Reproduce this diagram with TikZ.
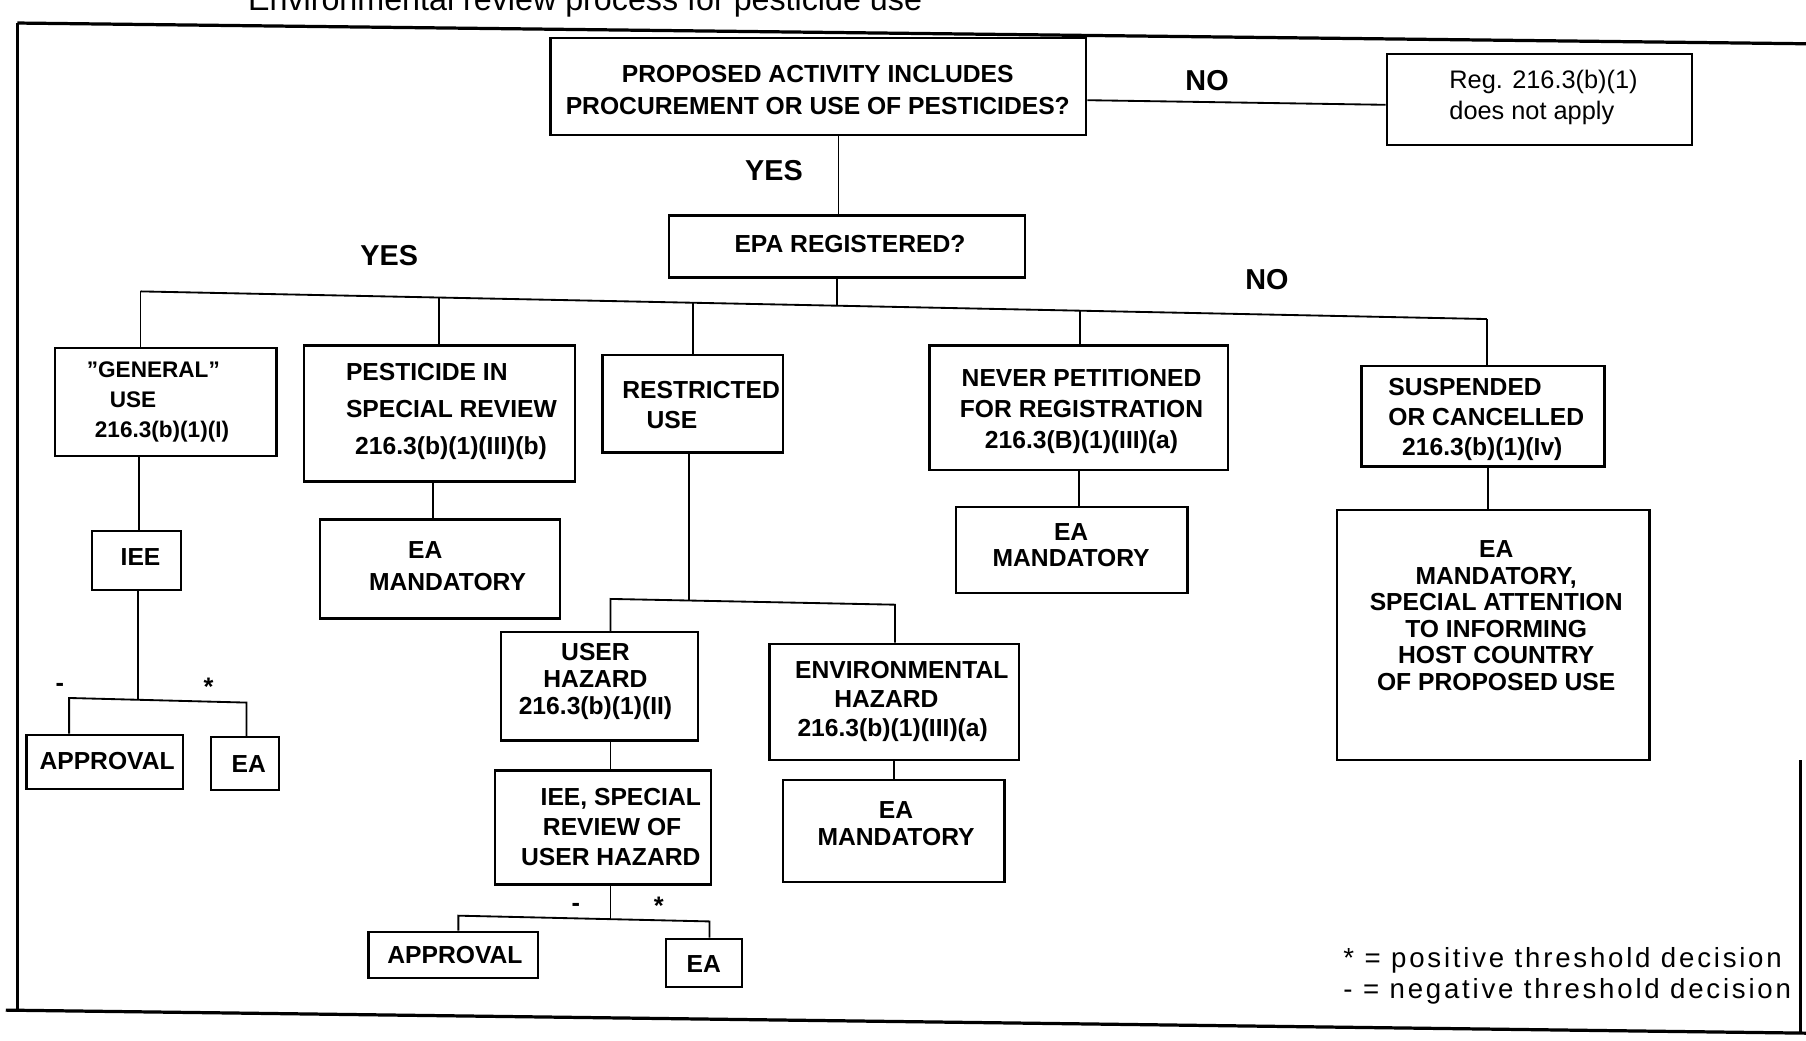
\documentclass[tikz,border=0pt]{standalone}
\usepackage{fontspec}
\setmainfont{Liberation Sans}
\newfontfamily\legendfont[LetterSpace=10]{Liberation Sans}
\newcommand\mycapf[1]{\fontsize{10.7}{#1}\selectfont\bfseries}
\newcommand\mybox[5]{\node[box,minimum width={(#4-#2)*0.5pt},minimum height={(#5-#3)*0.5pt}] (#1) at ({(#2+#4)/2},{(#3+#5)/2}) {};}
\begin{document}
\begin{tikzpicture}[x=0.5pt,y=-0.5pt,
  box/.style={draw,line width=1pt,inner sep=0pt},
  txt/.style={inner sep=0pt,font=\mycapf{#1}},
  txt/.default=13.5,
  regtxt/.style={inner sep=0pt,font=\fontsize{11}{13.5}\selectfont},
  lbl/.style={inner sep=0pt,font=\fontsize{12.5}{15}\selectfont\bfseries},
  mk/.style={inner sep=0pt,font=\fontsize{11}{13}\selectfont\bfseries},
  conn/.style={line width=0.8pt},
  frame/.style={line width=1.4pt}]
\useasboundingbox (0,0) rectangle (1568,903);
% frame and title
\node[inner sep=0pt,anchor=base west,font=\fontsize{14}{16}\selectfont] (title) at (215,9) {Environmental review process for pesticide use};
\coordinate (f1) at (15,20);
\coordinate (f2) at (1568,38);
\coordinate (f3) at (15,878);
\coordinate (f4) at (5,877);
\coordinate (f5) at (1568,897);
\coordinate (f6) at (1563,660);
\coordinate (f7) at (1563,896);
\draw[frame] (f1) -- (f2);
\draw[frame] (f1) -- (f3);
\draw[frame] (f4) -- (f5);
\draw[frame] (f6) -- (f7);
% boxes
\mybox{prop}{478}{33}{943}{117}
\mybox{reg}{1204}{47}{1469}{126}
\mybox{epa}{581}{187}{890}{241}
\mybox{gen}{48}{302}{240}{396}
\mybox{pest}{264}{300}{499}{418}
\mybox{restr}{523}{308}{680}{393}
\mybox{never}{807}{300}{1066}{408}
\mybox{susp}{1182}{318}{1393}{405}
\mybox{iee}{80}{461}{157}{512}
\mybox{appa}{23}{638}{159}{685}
\mybox{eaa}{183}{640}{242}{686}
\mybox{eama}{278}{451}{486}{537}
\mybox{user}{435}{549}{606}{643}
\mybox{env}{668}{559}{885}{660}
\mybox{ieesp}{430}{669}{617}{768}
\mybox{appb}{320}{809}{467}{849}
\mybox{eab}{578}{815}{644}{857}
\mybox{eamb}{680}{677}{872}{766}
\mybox{eamc}{830}{440}{1031}{515}
\mybox{big}{1161}{443}{1432}{660}
% texts
\node[txt=14,align=center] (propT) at (710,78) {PROPOSED ACTIVITY INCLUDES\\PROCUREMENT OR USE OF PESTICIDES?};
\node[regtxt,align=left,anchor=west] (regT) at (1258,85) {Reg. 216.3(b)(1)\\does not apply};
\node[txt] (epaT) at (738,212) {EPA REGISTERED?};
\node[inner sep=0pt,font=\fontsize{9.8}{13}\selectfont\bfseries,align=left,anchor=west] (genT) at (75,349) {"GENERAL"\\\hspace*{10pt}USE\\\hspace*{3.5pt}216.3(b)(1)(I)};
\node[txt=16,align=left,anchor=west] (pestT) at (300,357) {PESTICIDE IN\\SPECIAL REVIEW\\\hspace*{4pt}216.3(b)(1)(III)(b)};
\node[txt=13,align=left,anchor=west] (restrT) at (540,352) {RESTRICTED\\\hspace*{10.5pt}USE};
\node[txt=13.5,align=center] (neverT) at (939,357) {NEVER PETITIONED\\FOR REGISTRATION\\216.3(B)(1)(III)(a)};
\node[txt=13,align=left,anchor=west] (suspT) at (1205,364) {SUSPENDED\\OR CANCELLED\\\hspace*{6pt}216.3(b)(1)(Iv)};
\node[txt] (ieeT) at (122,484) {IEE};
\node[txt] (appaT) at (93,661) {APPROVAL};
\node[txt] (eaaT) at (216,663) {EA};
\node[txt=13.5,align=left,anchor=west] (eamaT) at (320,491.5) {\hspace*{17pt}EA\\MANDATORY};
\node[txt=11.75,align=center] (userT) at (517,592) {USER\\HAZARD\\216.3(b)(1)(II)};
\node[txt=12.5,align=left,anchor=west] (envT) at (690,609) {ENVIRONMENTAL\\\hspace*{17pt}HAZARD\\\hspace*{1pt}216.3(b)(1)(III)(a)};
\node[txt=13,align=left,anchor=west] (ieespT) at (452,718) {\hspace*{8.5pt}IEE, SPECIAL\\\hspace*{9.5pt}REVIEW OF\\USER HAZARD};
\node[txt] (appbT) at (395,829) {APPROVAL};
\node[txt] (eabT) at (611,837) {EA};
\node[txt=12,align=center] (eambT) at (778,715) {EA\\MANDATORY};
\node[txt=11.5,align=center] (eamcT) at (930,473.5) {EA\\MANDATORY};
\node[txt=11.5,align=center] (bigT) at (1299,534.5) {EA\\MANDATORY,\\SPECIAL ATTENTION\\TO INFORMING\\HOST COUNTRY\\OF PROPOSED USE};
% labels
\node[lbl] (no1) at (1048,70) {NO};
\node[lbl] (yes1) at (672,148) {YES};
\node[lbl] (yes2) at (338,222) {YES};
\node[lbl] (no2) at (1100,243) {NO};
\node[mk] (m1) at (52,597) {-};
\node[mk] (m2) at (181,596) {*};
\node[mk] (m3) at (500,788) {-};
\node[mk] (m4) at (572,786) {*};
\node[inner sep=0pt,anchor=west,align=left,font=\legendfont\fontsize{12}{13.5}\selectfont] (legend) at (1166,847) {* = positive threshold decision\\- = negative threshold decision};
% connectors
\draw[conn] ([yshift=-6pt]prop.east) -- ([yshift=-2.25pt]reg.west);
\coordinate (v1) at (728,0);
\draw[conn] (v1 |- prop.south) -- (v1 |- epa.north);
\coordinate (b0) at (727,265.4);
\draw[conn] (b0 |- epa.south) -- (b0);
\coordinate (b1) at (122,253);
\coordinate (b2) at (381,258.3);
\coordinate (b3) at (602,262.9);
\coordinate (b4) at (938,269.8);
\coordinate (b5) at (1291,277);
\draw[conn] (b1) -- (b5);
\draw[conn] (b1) -- (b1 |- gen.north);
\draw[conn] (b2) -- (b2 |- pest.north);
\draw[conn] (b3) -- (b3 |- restr.north);
\draw[conn] (b4) -- (b4 |- never.north);
\draw[conn] (b5) -- (b5 |- susp.north);
% general branch
\coordinate (g1) at (121,0);
\draw[conn] (g1 |- gen.south) -- (g1 |- iee.north);
\coordinate (g2) at (120,608);
\draw[conn] (g2 |- iee.south) -- (g2);
\coordinate (g3) at (60,606);
\coordinate (g4) at (214,610);
\draw[conn] (g3 |- appa.north) -- (g3) -- (g4) -- (g4 |- eaa.north);
% pesticide special review
\coordinate (p1) at (376,0);
\draw[conn] (p1 |- pest.south) -- (p1 |- eama.north);
% restricted branch
\coordinate (r1) at (598,521);
\draw[conn] (r1 |- restr.south) -- (r1);
\coordinate (r2) at (530,520);
\coordinate (r3) at (777,525);
\draw[conn] (r2 |- user.north) -- (r2) -- (r3) -- (r3 |- env.north);
\coordinate (u1) at (530,0);
\draw[conn] (u1 |- user.south) -- (u1 |- ieesp.north);
\coordinate (u2) at (530,797.5);
\draw[conn] (u2 |- ieesp.south) -- (u2);
\coordinate (u3) at (398,795);
\coordinate (u4) at (616,800);
\draw[conn] (u3 |- appb.north) -- (u3) -- (u4) -- (u4 |- eab.north);
\coordinate (e1) at (776,0);
\draw[conn] (e1 |- env.south) -- (e1 |- eamb.north);
% never petitioned
\coordinate (n1) at (937,0);
\draw[conn] (n1 |- never.south) -- (n1 |- eamc.north);
% suspended
\coordinate (s1) at (1292,0);
\draw[conn] (s1 |- susp.south) -- (s1 |- big.north);
\end{tikzpicture}
\end{document}
